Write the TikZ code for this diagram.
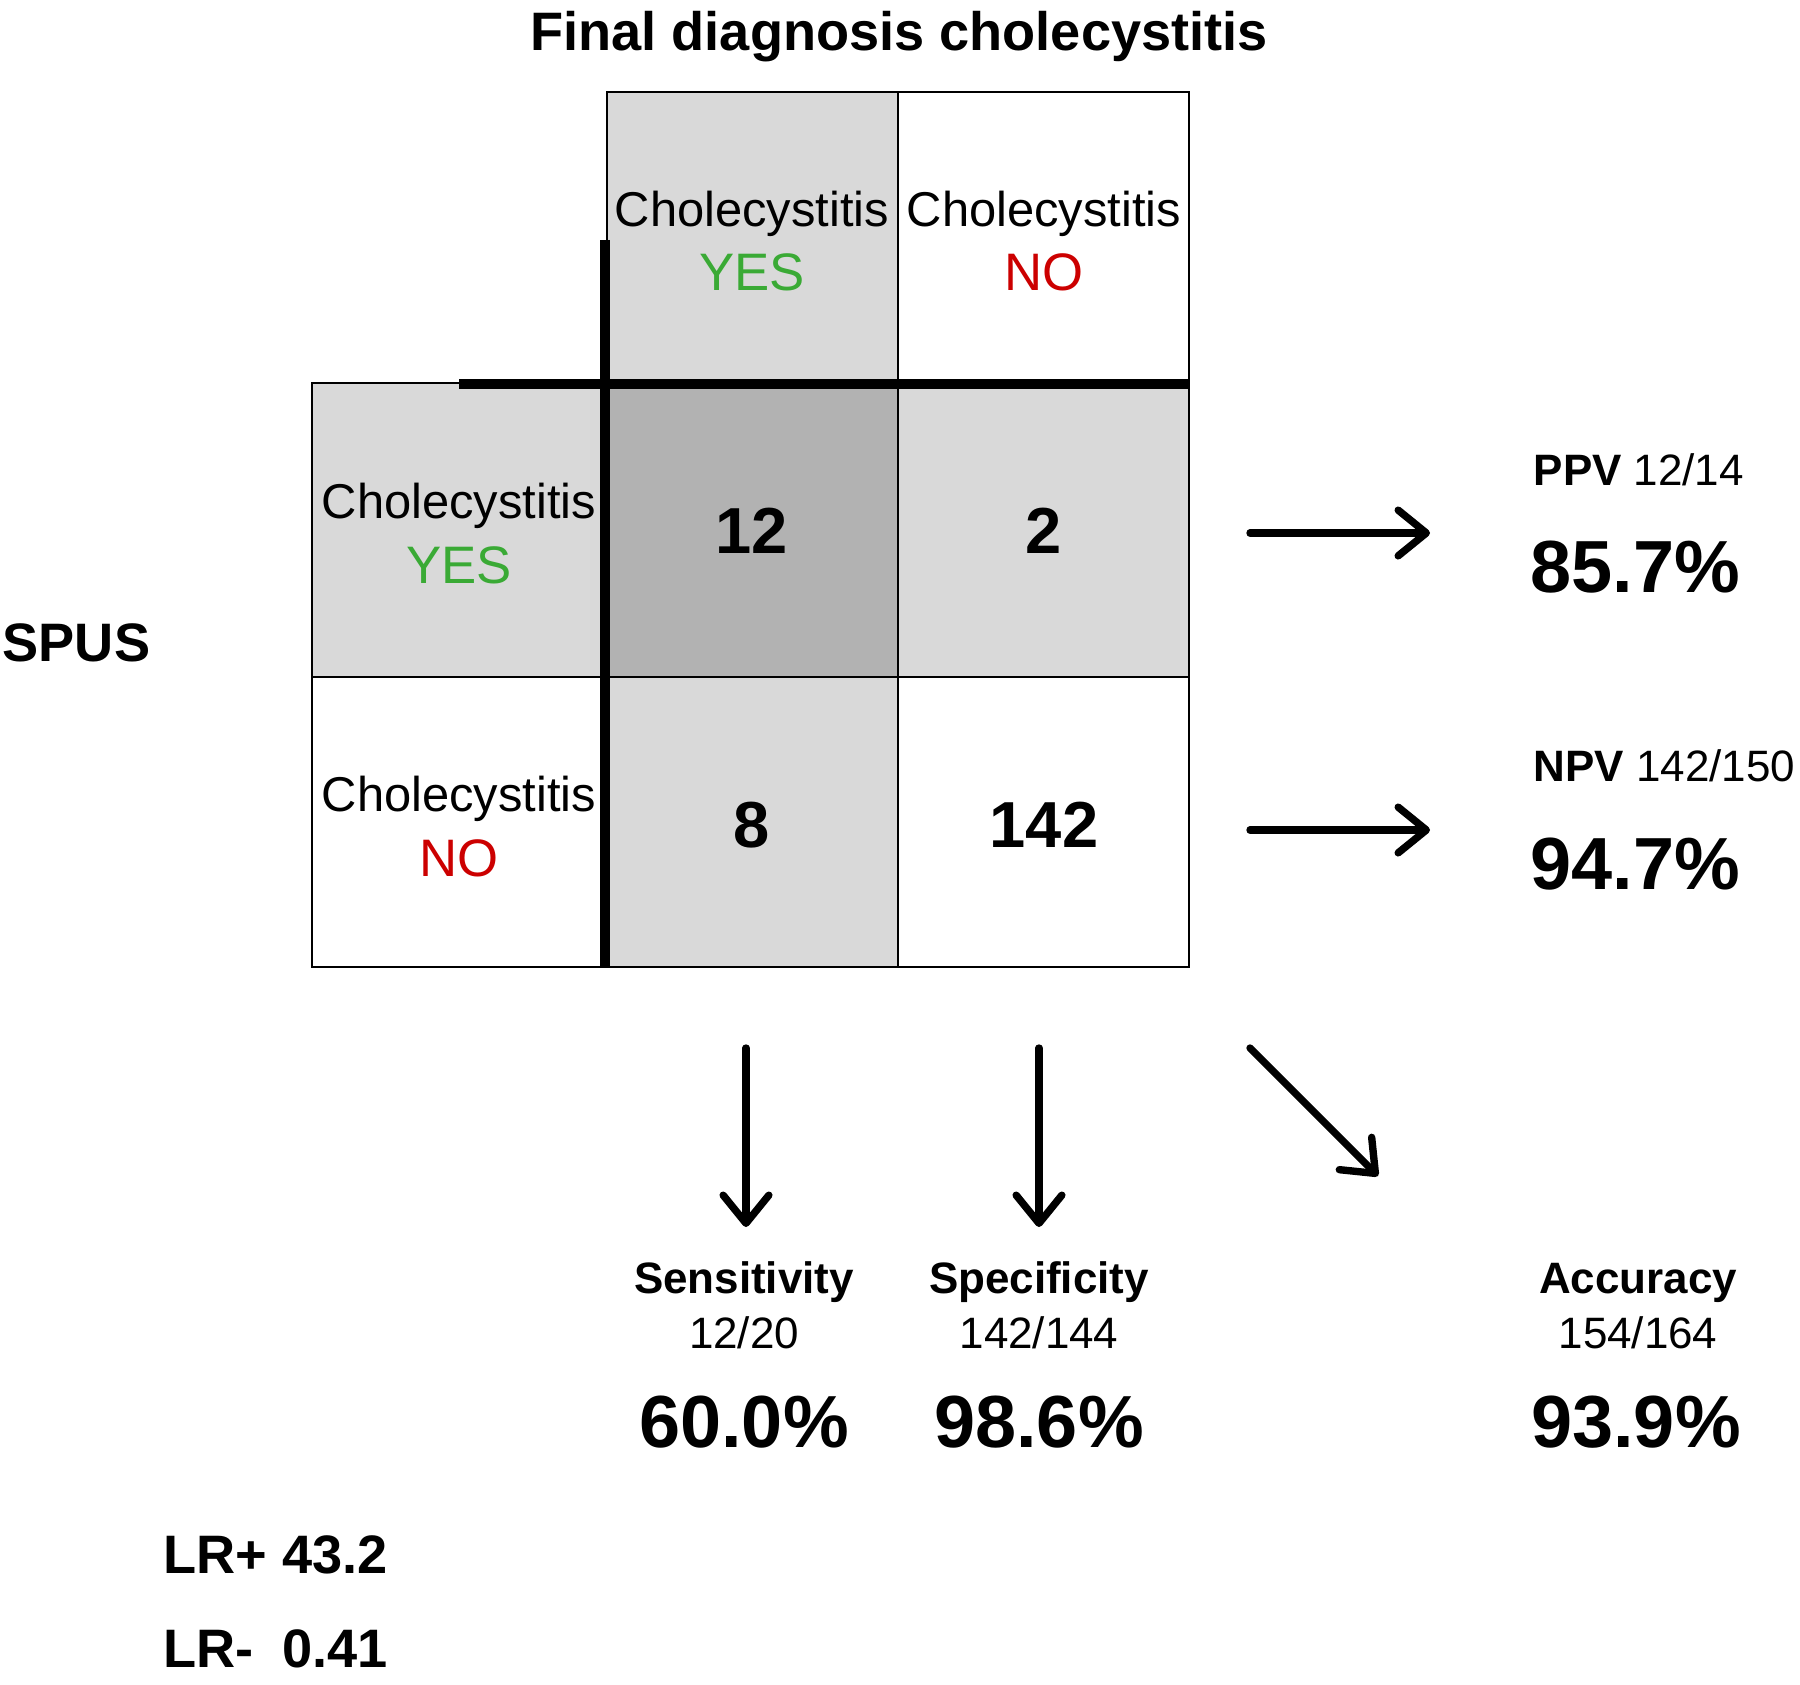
\documentclass[tikz,border=0pt]{standalone}
\usepackage{fontspec}
\setmainfont{Liberation Sans}
\usetikzlibrary{arrows.meta}

\definecolor{yesgreen}{RGB}{58,170,53}
\definecolor{nored}{RGB}{204,0,0}
\definecolor{lightcell}{RGB}{217,217,217}
\definecolor{darkcell}{RGB}{178,178,178}

\newcommand\headfont{\fontsize{15.4pt}{18pt}\bfseries\selectfont}
\newcommand\labelfont{\fontsize{13.9pt}{16pt}\selectfont}
\newcommand\answerfont{\fontsize{15pt}{17pt}\selectfont}
\newcommand\countfont{\fontsize{18.5pt}{22pt}\bfseries\selectfont}
\newcommand\smallfont{\fontsize{12.5pt}{15pt}\selectfont}
\newcommand\pctfont{\fontsize{21pt}{25pt}\bfseries\selectfont}

\tikzset{
  cell/.style={line width=0.7pt},
  divider/.style={line width=2.6pt},
  result/.style={line width=2.1pt, line cap=round,
    -{Straight Barb[length=8pt,width=13pt,line cap=round,line join=round]}},
  txt/.style={inner sep=0pt, anchor=base}
}

\begin{document}
\begin{tikzpicture}[x=0.01cm, y=-0.01cm]
\useasboundingbox (0,0) rectangle (1800,1685);

% Cells of the table
\filldraw[cell, fill=lightcell] (607,92) rectangle (898,383);
\filldraw[cell, fill=white] (898,92) rectangle (1189,383);

\filldraw[cell, fill=lightcell] (312,383) rectangle (607,677);
\filldraw[cell, fill=darkcell] (607,383) rectangle (898,677);
\filldraw[cell, fill=lightcell] (898,383) rectangle (1189,677);

\filldraw[cell, fill=white] (312,677) rectangle (607,967);
\filldraw[cell, fill=lightcell] (607,677) rectangle (898,967);
\filldraw[cell, fill=white] (898,677) rectangle (1189,967);

% Thick dividers
\draw[divider] (605,240)--(605,967);
\draw[divider] (459,384)--(1189,384);

% Headings
\node[txt, font=\headfont] (title) at (899,51) {Final diagnosis cholecystitis};
\node[txt, font=\headfont, anchor=base west] (spus) at (2,661) {SPUS};

% Column and row labels
\node[txt, font=\labelfont] (colyes) at (752,226) {Cholecystitis};
\node[txt, font=\answerfont, text=yesgreen] (colyesa) at (752,291) {YES};
\node[txt, font=\labelfont] (colno) at (1044,226) {Cholecystitis};
\node[txt, font=\answerfont, text=nored] (colnoa) at (1044,291) {NO};

\node[txt, font=\labelfont] (rowyes) at (459,518) {Cholecystitis};
\node[txt, font=\answerfont, text=yesgreen] (rowyesa) at (459,583) {YES};
\node[txt, font=\labelfont] (rowno) at (459,811) {Cholecystitis};
\node[txt, font=\answerfont, text=nored] (rownoa) at (459,876) {NO};

% Counts
\node[txt, font=\countfont] (tp) at (752,553) {12};
\node[txt, font=\countfont] (fp) at (1044,553) {2};
\node[txt, font=\countfont] (fn) at (752,847) {8};
\node[txt, font=\countfont] (tn) at (1044,847) {142};

% Predictive values
\node[txt, anchor=base west, font=\smallfont] (ppv) at (1533,485) {\textbf{PPV} 12/14};
\node[txt, anchor=base west, font=\pctfont] (ppvval) at (1530,592) {85.7\%};
\node[txt, anchor=base west, font=\smallfont] (npv) at (1533,781) {\textbf{NPV} 142/150};
\node[txt, anchor=base west, font=\pctfont] (npvval) at (1530,889) {94.7\%};

% Sensitivity, specificity, accuracy
\node[txt, font=\smallfont\bfseries] (sens) at (744,1293) {Sensitivity};
\node[txt, font=\smallfont] (sensfrac) at (744,1348) {12/20};
\node[txt, font=\pctfont] (sensval) at (744,1447) {60.0\%};

\node[txt, font=\smallfont\bfseries] (spec) at (1039,1293) {Specificity};
\node[txt, font=\smallfont] (specfrac) at (1039,1348) {142/144};
\node[txt, font=\pctfont] (specval) at (1039,1447) {98.6\%};

\node[txt, font=\smallfont\bfseries] (acc) at (1638,1293) {Accuracy};
\node[txt, font=\smallfont] (accfrac) at (1638,1348) {154/164};
\node[txt, font=\pctfont] (accval) at (1636,1447) {93.9\%};

% Likelihood ratios
\node[txt, anchor=base west, font=\headfont] (lrpos) at (163,1573) {LR+ 43.2};
\node[txt, anchor=base west, font=\headfont] (lrneg) at (163,1667) {\rlap{LR-}\phantom{LR+} 0.41};

% Arrow ends
\coordinate (ppvfrom) at (1250,533);
\coordinate (ppvto) at (1430,533);
\coordinate (npvfrom) at (1250,830);
\coordinate (npvto) at (1430,830);
\coordinate (sensfrom) at (746,1048);
\coordinate (sensto) at (746,1227);
\coordinate (specfrom) at (1039,1048);
\coordinate (specto) at (1039,1227);
\coordinate (accfrom) at (1250,1048);
\coordinate (accto) at (1378,1176);

% Arrows
\draw[result] (ppvfrom)--(ppvto);
\draw[result] (npvfrom)--(npvto);
\draw[result] (sensfrom)--(sensto);
\draw[result] (specfrom)--(specto);
\draw[result] (accfrom)--(accto);
\end{tikzpicture}
\end{document}
